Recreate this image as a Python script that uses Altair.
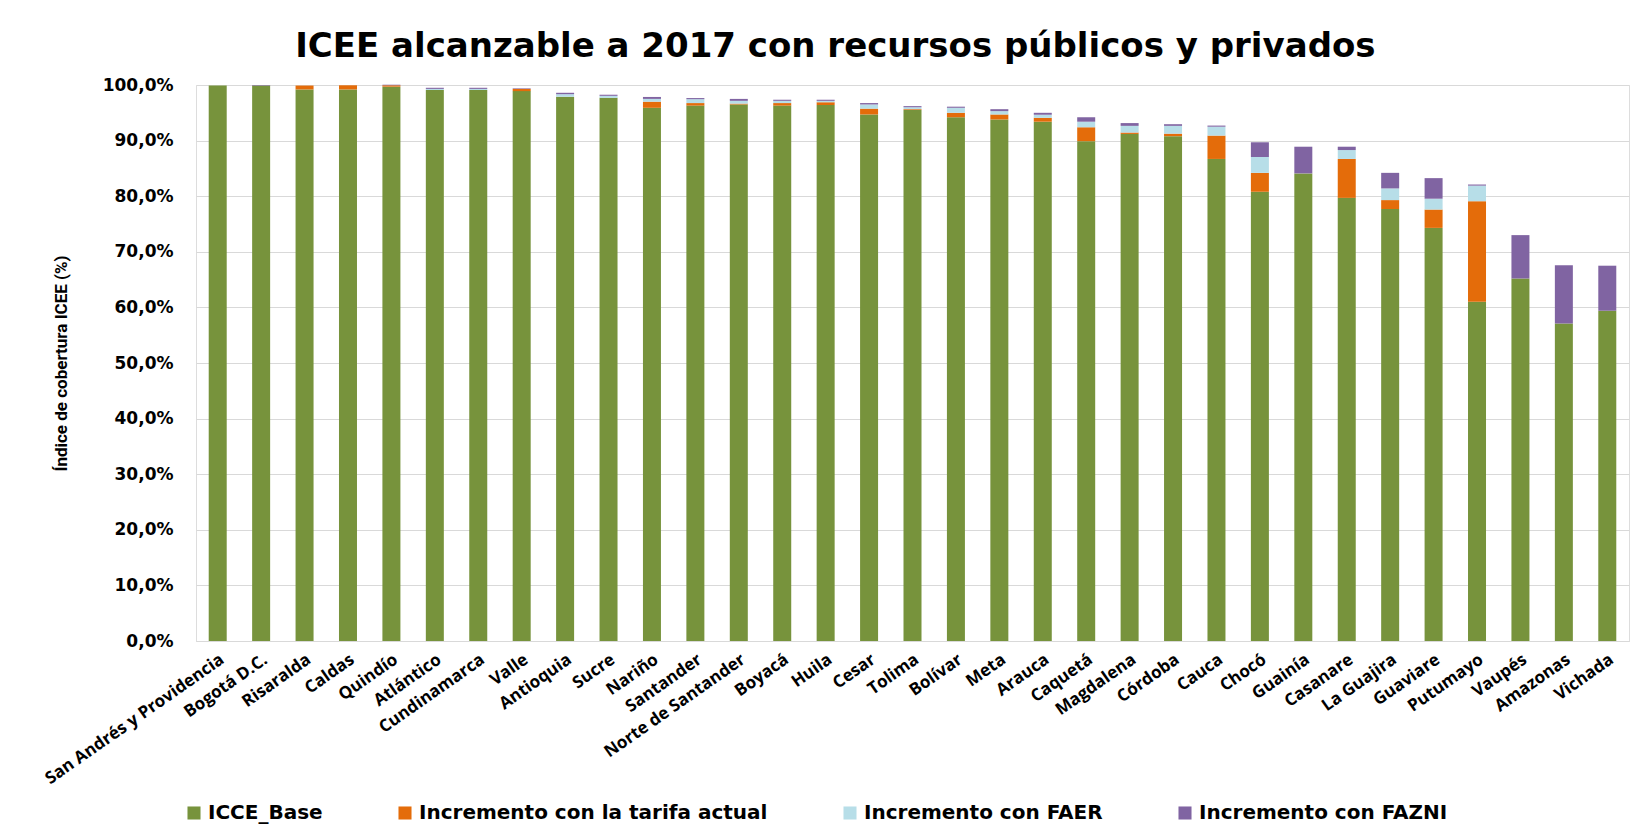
import altair as alt
import pandas as pd

departamentos = [
    "San Andrés y Providencia", "Bogotá D.C.", "Risaralda", "Caldas", "Quindío",
    "Atlántico", "Cundinamarca", "Valle", "Antioquia", "Sucre", "Nariño",
    "Santander", "Norte de Santander", "Boyacá", "Huila", "Cesar", "Tolima",
    "Bolívar", "Meta", "Arauca", "Caquetá", "Magdalena", "Córdoba", "Cauca",
    "Chocó", "Guainía", "Casanare", "La Guajira", "Guaviare", "Putumayo",
    "Vaupés", "Amazonas", "Vichada",
]
icce_base = [99.9, 99.9, 99.2, 99.2, 99.7, 99.1, 99.1, 98.9, 97.9, 97.7, 95.9,
             96.3, 96.5, 96.3, 96.4, 94.7, 95.5, 94.2, 93.8, 93.4, 89.9, 91.2,
             90.8, 86.7, 80.8, 84.1, 79.7, 77.7, 74.3, 61.0, 65.2, 57.1, 59.4]
inc_tarifa = [0.0, 0.0, 0.7, 0.75, 0.25, 0.0, 0.0, 0.4, 0.0, 0.0, 1.1,
              0.45, 0.15, 0.45, 0.5, 1.05, 0.15, 0.8, 0.9, 0.7, 2.5, 0.25,
              0.45, 4.2, 3.4, 0.0, 7.0, 1.6, 3.3, 18.1, 0.0, 0.0, 0.0]
inc_faer = [0.0, 0.0, 0.0, 0.0, 0.0, 0.2, 0.2, 0.0, 0.45, 0.35, 0.5,
            0.7, 0.5, 0.4, 0.25, 0.75, 0.35, 0.9, 0.6, 0.55, 1.0, 1.2,
            1.4, 1.6, 2.85, 0.0, 1.6, 2.1, 1.95, 2.8, 0.0, 0.0, 0.0]
inc_fazni = [0.0, 0.1, 0.0, 0.0, 0.1, 0.2, 0.2, 0.1, 0.25, 0.2, 0.35,
             0.2, 0.35, 0.2, 0.2, 0.25, 0.2, 0.2, 0.35, 0.35, 0.8, 0.5,
             0.3, 0.2, 2.65, 4.8, 0.6, 2.8, 3.7, 0.2, 7.8, 10.5, 8.1]

series = ["ICCE_Base", "Incremento con la tarifa actual",
          "Incremento con FAER", "Incremento con FAZNI"]
colores = ["#77933C", "#E46C0A", "#B7DEE8", "#8064A2"]

rows = []
for i, d in enumerate(departamentos):
    for j, vals in enumerate([icce_base, inc_tarifa, inc_faer, inc_fazni]):
        rows.append({"Departamento": d, "Serie": series[j], "orden": j, "valor": vals[i]})
df = pd.DataFrame(rows)

chart = alt.Chart(df).mark_bar(size=18).encode(
    x=alt.X("Departamento:N", sort=departamentos,
            scale=alt.Scale(paddingInner=0.6, paddingOuter=0.3),
            axis=alt.Axis(title=None, labelAngle=-35, labelFont="Open Sans",
                          labelFontWeight="bold", labelFontSize=17, labelColor="#000000",
                          labelLimit=400, ticks=False, domainColor="#D9D9D9",
                          labelPadding=10)),
    y=alt.Y("valor:Q", stack="zero", scale=alt.Scale(domain=[0, 100]),
            axis=alt.Axis(values=list(range(0, 101, 10)),
                          labelExpr="replace(format(datum.value, '.1f'), '.', ',') + '%'",
                          title="Índice de cobertura ICEE (%)",
                          titleFont="Roboto", titleFontSize=17,
                          titleFontWeight="bold", titleColor="#000000", titlePadding=32,
                          labelFont="DejaVu Sans", labelFontWeight="bold", labelFontSize=17,
                          labelColor="#000000", labelPadding=23, ticks=False, domain=False,
                          gridColor="#D9D9D9")),
    color=alt.Color("Serie:N", sort=series,
                    scale=alt.Scale(domain=series, range=colores),
                    legend=alt.Legend(title=None, orient="none", legendX=-12, legendY=718,
                                      direction="horizontal", columns=4, columnPadding=72,
                                      symbolType="square", symbolSize=170,
                                      symbolStrokeWidth=0, labelFont="DejaVu Sans",
                                      labelFontWeight="bold", labelFontSize=20,
                                      labelColor="#000000", labelLimit=600)),
    order=alt.Order("orden:Q"),
).properties(
    width=1433, height=556,
    title=alt.TitleParams("ICEE alcanzable a 2017 con recursos públicos y privados",
                          font="DejaVu Sans", fontSize=34, fontWeight="bold", color="#000000",
                          anchor="middle", frame="bounds", offset=12),
    padding={"left": 33, "top": 22, "right": 5, "bottom": 5},
).configure_view(stroke=None).configure(background="white")

chart.save("out.html", embed_options={"renderer": "svg", "actions": False})
